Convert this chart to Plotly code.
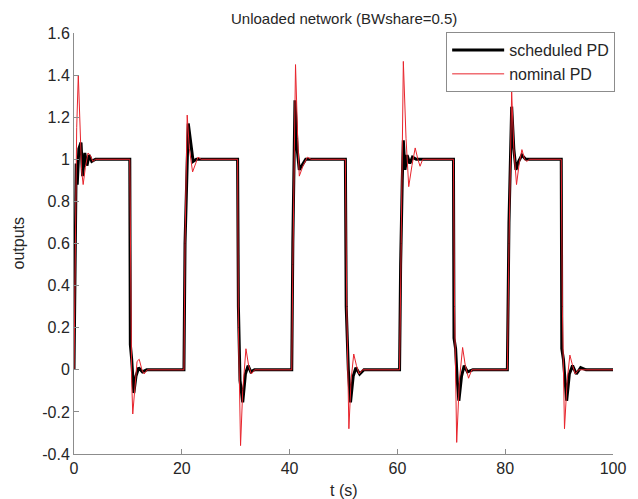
import plotly.graph_objects as go

# ---- data ----
sched_t = [0, 0.2, 0.4, 0.6, 0.9, 1.3, 1.6, 2.0, 2.4, 2.8, 3.3, 4.0, 10.35,
           10.45, 10.7, 11.1, 11.5, 12.0, 12.7, 13.5, 20.4,
           20.6, 21.2, 22.1, 22.7, 30.35,
           30.5, 30.8, 31.3, 31.8, 32.3, 32.8, 33.5, 40.4,
           40.6, 41.0, 41.4, 41.8, 42.3, 43.0, 50.35,
           50.5, 50.9, 51.3, 51.8, 52.3, 53.0, 53.8, 60.4,
           60.6, 60.9, 61.1, 61.4, 61.8, 62.3, 62.8, 63.5, 70.4,
           70.5, 70.8, 71.1, 71.4, 71.9, 72.4, 73.0, 74.0, 80.4,
           80.7, 81.2, 81.6, 82.0, 82.5, 83.1, 83.8, 90.4,
           90.5, 90.8, 91.1, 91.4, 91.9, 92.5, 93.2, 94.0, 95.0, 100]
sched_y = [0, 0.7, 0.98, 0.88, 1.05, 1.08, 0.92, 1.03, 0.97, 1.02, 0.99, 1.0, 1.0,
           0.12, 0.05, -0.11, -0.03, 0.01, -0.01, 0.0, 0.0,
           0.6, 1.17, 0.99, 1.0, 1.0,
           0.3, -0.05, -0.155, -0.02, 0.02, -0.01, 0.0, 0.0,
           0.6, 1.28, 1.05, 0.95, 0.97, 1.0, 1.0,
           0.3, 0.0, -0.155, -0.03, 0.01, -0.02, 0.0, 0.0,
           0.5, 0.9, 1.09, 0.95, 1.02, 0.98, 1.01, 1.0, 1.0,
           0.15, 0.1, -0.05, -0.147, -0.03, 0.02, -0.01, 0.0, 0.0,
           0.7, 1.25, 1.05, 0.95, 0.99, 1.02, 1.0, 1.0,
           0.1, 0.05, -0.05, -0.147, -0.02, 0.02, -0.02, 0.01, 0.0, 0.0]

nominal_t = [0, 0.25, 0.5, 0.8, 1.1, 1.4, 1.7, 2.1, 2.6, 3.0, 3.5, 4.0, 10.35,
             10.5, 10.7, 10.9, 11.3, 11.7, 12.1, 12.6, 13.0, 13.6, 20.4,
             20.6, 21.0, 21.4, 22.0, 22.5, 23.0, 23.6, 30.35,
             30.5, 30.9, 31.3, 31.9, 32.4, 32.9, 33.5, 40.4,
             40.6, 41.1, 41.5, 41.8, 42.5, 43.3, 44.0, 50.35,
             50.6, 51.0, 51.4, 51.9, 52.4, 52.9, 53.5, 60.4,
             60.7, 61.1, 61.6, 62.1, 62.7, 63.3, 63.8, 64.2, 64.7, 70.4,
             70.6, 71.0, 71.5, 72.1, 72.6, 73.2, 73.8, 80.4,
             80.7, 81.2, 81.6, 82.1, 82.6, 83.1, 83.6, 84.0, 84.5, 90.4,
             90.6, 91.0, 91.5, 92.0, 92.5, 93.0, 93.6, 100]
nominal_y = [0, 0.6, 1.15, 1.40, 1.2, 0.95, 0.88, 0.96, 1.03, 1.02, 0.99, 1.0, 1.0,
             0.4, -0.05, -0.21, -0.08, 0.04, 0.05, 0.0, -0.02, 0.0, 0.0,
             0.6, 1.21, 1.05, 0.94, 0.98, 1.01, 1.0, 1.0,
             0.2, -0.36, -0.1, 0.10, 0.02, -0.02, 0.0, 0.0,
             0.5, 1.45, 1.1, 0.92, 0.97, 1.01, 1.0, 1.0,
             0.3, -0.28, -0.05, 0.075, 0.02, -0.02, 0.0, 0.0,
             0.6, 1.465, 1.1, 0.87, 0.97, 1.054, 1.0, 0.967, 1.0, 1.0,
             0.3, -0.345, -0.05, 0.106, 0.02, -0.04, 0.0, 0.0,
             0.6, 1.32, 1.05, 0.88, 0.98, 1.046, 1.0, 0.99, 1.0, 1.0,
             0.3, -0.28, -0.05, 0.07, 0.02, -0.02, 0.0, 0.0]

x_ticks = [0, 20, 40, 60, 80, 100]
x_ticklabels = ["0", "20", "40", "60", "80", "100"]
y_ticks = [-0.4, -0.2, 0, 0.2, 0.4, 0.6, 0.8, 1.0, 1.2, 1.4, 1.6]
y_ticklabels = ["-0.4", "-0.2", "0", "0.2", "0.4", "0.6", "0.8", "1", "1.2", "1.4", "1.6"]

FONT = "Liberation Sans, Arial, Helvetica, sans-serif"
TXT = "#262626"
AX = "#8c8c8c"

fig = go.Figure()
fig.add_trace(go.Scatter(x=sched_t, y=sched_y, mode="lines", name="scheduled PD",
                         line=dict(color="#000000", width=3)))
fig.add_trace(go.Scatter(x=nominal_t, y=nominal_y, mode="lines", name="nominal PD",
                         line=dict(color="#e8242c", width=1)))

# the page body adds an 8px offset, so the figure is 8px smaller on each side
fig.update_layout(
    width=630, height=491,
    margin=dict(l=66, r=25, t=25, b=45),
    paper_bgcolor="white", plot_bgcolor="white",
    font=dict(family=FONT, size=16, color=TXT),
    showlegend=True,
    legend=dict(x=1.004, xanchor="right", y=1.002, yanchor="top",
                bgcolor="white", bordercolor=AX, borderwidth=1,
                font=dict(family=FONT, size=16, color=TXT),
                itemwidth=52, tracegroupgap=0),
    annotations=[
        dict(text="Unloaded network (BWshare=0.5)", xref="paper", yref="paper",
             x=0.5, y=1, yshift=15, xanchor="center", yanchor="middle",
             showarrow=False, font=dict(family=FONT, size=15, color=TXT)),
        dict(text="t (s)", xref="paper", yref="paper", x=0.5, y=0, yshift=-36,
             xanchor="center", yanchor="middle", showarrow=False,
             font=dict(family=FONT, size=16, color=TXT)),
        dict(text="outputs", xref="paper", yref="paper", x=0, xshift=-56, y=0.5,
             textangle=-90, xanchor="center", yanchor="middle", showarrow=False,
             font=dict(family=FONT, size=16, color=TXT)),
    ],
)
fig.update_xaxes(range=[0, 100], tickvals=x_ticks, ticktext=x_ticklabels,
                 showgrid=False, zeroline=False, showline=True, linecolor=AX, linewidth=1,
                 ticks="inside", ticklen=5, tickcolor=AX, mirror=False,
                 tickfont=dict(family=FONT, size=16, color=TXT))
fig.update_yaxes(range=[-0.4, 1.6], tickvals=y_ticks, ticktext=y_ticklabels,
                 showgrid=False, zeroline=False, showline=True, linecolor=AX, linewidth=1,
                 ticks="inside", ticklen=5, tickcolor=AX, mirror=False,
                 tickfont=dict(family=FONT, size=16, color=TXT))

fig.write_html("out.html")
